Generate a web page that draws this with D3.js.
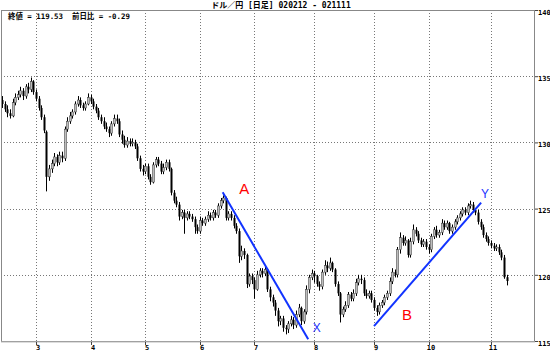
<!DOCTYPE html>
<html>
<head>
<meta charset="utf-8">
<script src="https://cdn.jsdelivr.net/npm/d3@7"></script>
<style>
  body { margin: 0; background: #fff; }
  svg { display: block; }
  .mono { font-family: "DejaVu Sans Mono", "Noto Sans CJK JP", monospace; font-weight: bold; }
</style>
</head>
<body>
<svg id="chart" width="550" height="353"></svg>
<script>
// daily USD/JPY candles, 2002-02-12 .. 2002-11-11
const opens = [
  133.2,132.9,132.5,132.2,132.0,133.0,133.4,133.6,133.9,133.5,134.2,134.0,134.6,133.8,133.3,132.6,131.9,130.8,127.4,128.0,
  128.4,128.9,128.5,129.0,128.8,131.0,131.6,132.0,132.3,132.9,133.2,132.8,132.6,132.9,133.4,133.1,132.7,132.4,131.9,131.6,
  131.2,131.0,130.7,131.4,131.8,131.6,130.6,130.2,129.8,130.1,129.9,130.0,129.7,128.8,128.0,127.8,128.2,127.4,127.0,128.3,
  128.7,128.4,127.8,128.1,128.5,128.0,126.2,125.6,125.3,124.4,124.7,124.3,124.6,124.4,124.2,123.6,123.3,124.1,123.9,124.2,
  124.5,124.3,124.7,124.5,125.2,125.6,125.8,124.3,124.6,124.3,123.7,123.3,121.4,121.8,121.5,119.3,119.9,119.6,118.9,120.0,
  120.3,120.1,120.4,118.9,118.3,117.9,117.3,116.5,116.7,116.0,115.9,116.3,116.6,116.2,117.0,117.5,116.5,117.2,118.9,119.8,
  120.1,119.9,119.3,119.1,120.2,120.7,120.5,120.9,120.4,119.3,118.6,117.0,117.4,117.7,118.5,118.2,118.6,119.4,119.7,119.6,
  118.6,118.4,118.6,118.1,117.5,117.2,117.7,117.9,118.3,118.6,119.5,120.2,120.0,121.9,122.8,122.4,122.6,121.5,122.5,123.4,
  123.1,122.6,122.3,122.5,122.1,121.9,122.9,123.4,123.0,123.2,123.9,123.6,123.9,123.3,123.6,124.0,124.3,124.6,124.9,124.7,
  125.2,125.3,124.9,124.7,124.0,123.6,123.0,122.7,122.4,122.2,122.0,122.1,121.7,121.3,119.82
];
const highs = [
  133.5,133.1,132.8,132.5,133.3,133.7,133.9,134.2,134.1,134.4,134.5,134.9,134.7,134.0,133.5,132.8,132.1,130.9,128.3,128.7,
  129.2,129.1,129.3,129.3,131.2,131.9,132.3,132.5,133.1,133.5,133.4,133.0,133.1,133.7,133.6,133.3,132.9,132.6,132.1,131.9,
  131.5,131.2,131.6,132.1,132.1,131.8,130.9,130.5,130.4,130.3,130.3,130.2,129.9,129.0,128.3,128.4,128.4,127.6,128.5,128.9,
  128.9,128.6,128.4,128.7,128.7,128.1,126.4,125.9,125.5,124.9,124.9,124.8,124.8,124.6,124.4,123.8,124.4,124.3,124.4,124.8,
  124.7,124.9,124.9,125.4,125.8,126.0,125.9,124.8,124.8,124.5,123.9,123.5,122.2,122.0,121.6,120.1,120.1,119.8,120.3,120.5,
  120.5,120.6,120.5,119.1,118.5,118.1,117.5,116.9,116.9,116.2,116.5,116.9,116.8,117.3,117.8,117.6,117.4,119.2,120.0,120.4,
  120.3,120.0,119.5,120.4,121.1,121.0,121.3,121.0,120.5,119.5,118.7,117.6,118.0,118.7,118.7,118.9,119.7,120.0,120.0,119.8,
  118.9,118.8,118.8,118.3,117.7,117.9,118.1,118.5,118.8,119.8,120.5,120.4,122.1,123.2,123.0,122.9,122.7,122.8,123.8,123.6,
  123.3,122.8,122.7,122.7,122.3,123.1,123.6,123.7,123.4,124.2,124.1,124.1,124.0,123.8,124.2,124.5,124.8,125.1,125.1,125.4,
  125.6,125.5,125.0,124.9,124.2,123.8,123.2,122.9,122.6,122.4,122.3,122.3,121.9,121.5,120.0
];
const lows = [
  132.6,132.3,131.9,131.8,131.9,132.8,133.2,133.4,133.2,133.3,133.7,133.8,133.6,133.1,132.4,131.7,130.7,126.3,127.1,127.7,
  128.2,128.2,128.3,128.5,128.6,130.8,131.4,131.8,132.1,132.7,132.6,132.4,132.4,132.8,132.9,132.5,132.2,131.7,131.4,131.0,
  130.8,130.4,130.5,131.2,131.4,130.4,129.9,129.6,129.6,129.7,129.7,129.5,128.6,127.8,127.5,127.6,127.2,126.8,126.9,128.1,
  128.2,127.6,127.6,127.9,127.8,126.0,125.4,125.1,124.1,124.2,123.1,124.1,124.2,124.0,123.1,123.1,123.1,123.7,123.7,124.0,
  124.1,124.1,124.3,124.3,125.0,125.4,124.1,124.1,124.1,123.5,123.1,120.9,121.1,121.2,119.0,119.1,119.3,118.2,118.8,119.8,
  119.8,119.9,118.7,118.0,117.6,116.9,116.1,116.2,115.7,115.5,115.6,116.1,115.9,116.0,116.8,116.2,116.3,117.0,118.6,119.6,
  119.4,119.1,118.8,118.9,120.0,120.2,120.3,120.2,119.1,118.4,116.4,116.8,117.2,117.5,118.0,118.0,118.4,119.2,119.3,118.4,
  118.2,118.2,117.9,117.3,116.9,117.0,117.5,117.7,118.1,118.4,119.3,119.8,119.8,121.6,122.2,122.2,121.3,121.3,122.3,122.9,
  122.4,122.1,122.1,121.9,121.6,121.7,122.7,122.8,122.8,123.0,123.4,123.4,123.1,123.1,123.4,123.8,124.1,124.4,124.5,124.5,
  125.0,124.7,124.5,123.8,123.4,122.8,122.5,122.2,122.0,121.8,121.8,121.5,121.1,119.7,119.2
];
const closes = [
  132.9,132.5,132.2,132.0,133.0,133.4,133.6,133.9,133.5,134.2,134.0,134.6,133.8,133.3,132.6,131.9,130.9,127.4,128.0,128.4,
  128.9,128.5,129.0,128.8,131.0,131.6,132.0,132.3,132.9,133.2,132.8,132.6,132.9,133.4,133.1,132.7,132.4,131.9,131.6,131.2,
  131.0,130.7,131.4,131.8,131.6,130.6,130.2,129.8,130.1,129.9,130.0,129.7,128.8,128.0,127.8,128.2,127.4,127.0,128.3,128.7,
  128.4,127.8,128.1,128.5,128.0,126.2,125.6,125.3,124.4,124.7,124.3,124.6,124.4,124.2,123.6,123.3,124.1,123.9,124.2,124.5,
  124.3,124.7,124.5,125.2,125.6,125.8,124.3,124.6,124.3,123.7,123.3,121.4,121.8,121.5,119.3,119.9,119.6,118.9,120.0,120.3,
  120.1,120.4,118.9,118.3,117.9,117.3,116.5,116.7,116.0,115.9,116.3,116.6,116.2,117.0,117.5,116.5,117.2,118.9,119.8,120.1,
  119.9,119.3,119.1,120.2,120.7,120.5,120.9,120.4,119.3,118.6,117.0,117.4,117.7,118.5,118.2,118.6,119.4,119.7,119.6,118.6,
  118.4,118.6,118.1,117.5,117.2,117.7,117.9,118.3,118.6,119.5,120.2,120.0,121.9,122.8,122.4,122.6,121.5,122.5,123.4,123.1,
  122.6,122.3,122.5,122.1,121.9,122.9,123.4,123.0,123.2,123.9,123.6,123.9,123.3,123.6,124.0,124.3,124.6,124.9,124.7,125.2,
  125.3,124.9,124.7,124.0,123.6,123.0,122.7,122.4,122.2,122.0,122.1,121.7,121.3,119.82,119.53
];

const monthIdx = [13, 34, 55, 76, 97, 120, 143, 164, 188]; // first candle of each month
const monthLabels = ["3", "4", "5", "6", "7", "8", "9", "10", "11"];
const priceTicks = [115, 120, 125, 130, 135, 140];

// hand drawn trend lines [index, price] and their letters
const trendLines = [
  { from: [84.8, 126.23], to: [117.7, 115.13] },
  { from: [143.0, 116.13], to: [184.2, 125.45] }
];
const marks = [
  { t: "A", i: 93.1, p: 126.5, color: "#ff0000", size: 15 },
  { t: "X", i: 121.0, p: 115.95, color: "#2233ff", size: 12 },
  { t: "B", i: 155.7, p: 117.0, color: "#ff0000", size: 15 },
  { t: "Y", i: 185.7, p: 126.1, color: "#2233ff", size: 12 }
];

const titleText = "ドル／円 [日足] 020212 - 021111";
const infoText = "終値 = 119.53  前日比 = -0.29";

const candles = closes.map((c, i) => ({ i: i, o: opens[i], h: highs[i], l: lows[i], c: c }));

const plotL = 1, plotR = 534, plotT = 10, plotB = 341;
const svg = d3.select("#chart");

const x = d3.scaleLinear().domain([0, candles.length - 1]).range([2.2, 2.2 + 2.6 * (candles.length - 1)]);
const y = d3.scaleLinear().domain([115, 140]).range([plotB, plotT]);
const BODY_W = 2;

// grid
const grid = svg.append("g").attr("stroke", "#777").attr("stroke-dasharray", "1,2").attr("stroke-width", 1);
grid.selectAll("line.h")
  .data(priceTicks.filter((d) => d > 115 && d < 140))
  .enter().append("line")
  .attr("x1", plotL).attr("x2", plotR)
  .attr("y1", (d) => Math.round(y(d)) + 0.5).attr("y2", (d) => Math.round(y(d)) + 0.5);
grid.selectAll("line.v")
  .data(monthIdx)
  .enter().append("line")
  .attr("x1", (d) => Math.round(x(d)) + 0.5).attr("x2", (d) => Math.round(x(d)) + 0.5)
  .attr("y1", plotT).attr("y2", plotB);

// candles
const cg = svg.append("g");
cg.selectAll("line.wick")
  .data(candles)
  .enter().append("line")
  .attr("x1", (d) => Math.round(x(d.i)) + 0.5).attr("x2", (d) => Math.round(x(d.i)) + 0.5)
  .attr("y1", (d) => y(d.h)).attr("y2", (d) => y(d.l))
  .attr("stroke", "#000").attr("stroke-width", 1);
cg.selectAll("rect")
  .data(candles)
  .enter().append("rect")
  .attr("x", (d) => Math.round(x(d.i)) - 0.5)
  .attr("width", BODY_W)
  .attr("y", (d) => y(Math.max(d.o, d.c)))
  .attr("height", (d) => Math.max(1, Math.abs(y(d.o) - y(d.c))))
  .attr("fill", (d) => (d.c >= d.o ? "#bdbdbd" : "#000"))
  .attr("stroke", (d) => (d.c >= d.o ? "#333" : "none"))
  .attr("stroke-width", 0.5);

// frame
svg.append("rect")
  .attr("x", plotL + 0.5).attr("y", plotT + 0.5)
  .attr("width", plotR - plotL).attr("height", plotB - plotT)
  .attr("fill", "none").attr("stroke", "#888").attr("stroke-width", 1);
svg.append("line")
  .attr("x1", plotL).attr("x2", plotR + 1)
  .attr("y1", plotB + 1).attr("y2", plotB + 1)
  .attr("stroke", "#bbb").attr("stroke-width", 1);

// axes
const yAxis = svg.append("g").attr("transform", `translate(${plotR + 1},0)`)
  .call(d3.axisRight(y).tickValues(priceTicks).tickSize(3).tickFormat(d3.format("d")));
yAxis.select(".domain").remove();
yAxis.selectAll("line").attr("stroke", "#444");
yAxis.selectAll("text").attr("class", "mono").attr("font-size", "7px").attr("fill", "#000")
  .attr("x", 3).attr("dy", "0.6em");

const xAxis = svg.append("g").attr("transform", `translate(0,${plotB + 1})`)
  .call(d3.axisBottom(x).tickValues(monthIdx).tickSize(3).tickFormat((d, i) => monthLabels[i]));
xAxis.select(".domain").remove();
xAxis.selectAll(".tick").attr("transform", (d) => `translate(${Math.round(x(d)) + 0.5},0)`);
xAxis.selectAll("line").attr("stroke", "#444");
xAxis.selectAll("text").attr("class", "mono").attr("font-size", "7px").attr("fill", "#000")
  .attr("x", 1.5).attr("y", 3);

// trend lines and letters
svg.selectAll("line.trend")
  .data(trendLines)
  .enter().append("line")
  .attr("x1", (d) => x(d.from[0])).attr("y1", (d) => y(d.from[1]))
  .attr("x2", (d) => x(d.to[0])).attr("y2", (d) => y(d.to[1]))
  .attr("stroke", "#1133ff").attr("stroke-width", 2);

svg.selectAll("text.mark")
  .data(marks)
  .enter().append("text")
  .attr("x", (d) => x(d.i)).attr("y", (d) => y(d.p))
  .attr("text-anchor", "middle").attr("dominant-baseline", "central")
  .attr("font-family", "Liberation Sans, Arial, sans-serif")
  .attr("font-size", (d) => d.size + "px")
  .attr("fill", (d) => d.color)
  .text((d) => d.t);

// texts
svg.append("text").attr("class", "mono")
  .attr("x", 281).attr("y", 8).attr("text-anchor", "middle")
  .attr("font-size", "8px").attr("fill", "#000")
  .attr("xml:space", "preserve")
  .text(titleText);
svg.append("text").attr("class", "mono")
  .attr("x", 8).attr("y", 19)
  .attr("font-size", "7.5px").attr("fill", "#000")
  .attr("xml:space", "preserve")
  .attr("textLength", 122).attr("lengthAdjust", "spacingAndGlyphs")
  .text(infoText);
</script>
</body>
</html>
